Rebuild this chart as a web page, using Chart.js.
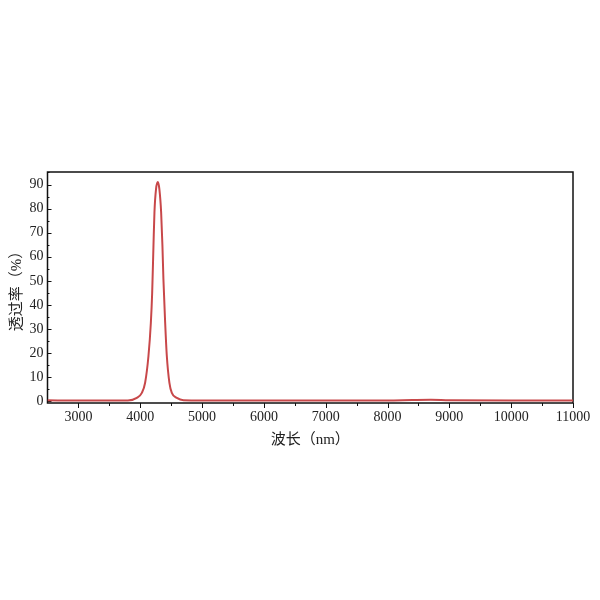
<!DOCTYPE html>
<html><head><meta charset="utf-8">
<script src="https://cdn.jsdelivr.net/npm/chart.js@4/dist/chart.umd.min.js"></script>
<style>html,body{margin:0;padding:0;background:#fff}#wrap{width:600px;height:600px}</style>
</head><body><div id="wrap"><canvas id="c" width="600" height="600"></canvas></div>
<script>
const wavelengths = [2500,3000,3500,3800,3945,4026,4079,4133,4172,4193,4214,4230,4255,4285,4310,4338,4359,4375,4403,4430,4472,4511,4592,4700,5000,6000,7000,8000,8400,8700,9000,10000,11000];
const transmittance = [0.4,0.3,0.3,0.3,1.4,3.5,7.7,18.8,32.7,45,64.6,78.5,88,91,88,78.5,64.6,50.7,32.7,18.8,7.7,3.5,1.4,0.4,0.3,0.3,0.3,0.3,0.5,0.6,0.4,0.3,0.3];
const xTicks = [3000,4000,5000,6000,7000,8000,9000,10000,11000];
const yTicks = [0,10,20,30,40,50,60,70,80,90];
const xTitle = '波长（nm）';
const yTitle = '透过率（%）';

const FONT = "'Liberation Serif', 'Noto Sans CJK SC', serif";

const frame = {
  id:'frame',
  beforeDatasetsDraw(chart){
    const {ctx, chartArea:a, scales:{x,y}} = chart;
    ctx.save();
    ctx.strokeStyle='#111'; ctx.lineWidth=1.5;
    ctx.strokeRect(a.left, a.top, a.right-a.left, a.bottom-a.top);
    ctx.lineWidth=1;
    ctx.beginPath();
    for(let v=0; v<=95; v+=5){
      const py = Math.round(y.getPixelForValue(v))+0.5;
      const len = (v%10===0)?4:2;
      ctx.moveTo(a.left, py); ctx.lineTo(a.left+len, py);
    }
    for(let v=3000; v<=11000; v+=500){
      const px = Math.round(x.getPixelForValue(v))+0.5;
      const len = (v%1000===0)?5:3;
      ctx.moveTo(px, a.bottom); ctx.lineTo(px, a.bottom+len);
    }
    ctx.stroke();
    ctx.restore();
  }
};

new Chart(document.getElementById('c'), {
  type:'line',
  data:{datasets:[{
    data: wavelengths.map((w,i)=>({x:w,y:transmittance[i]})),
    borderColor:'#c8484a', borderWidth:2, pointRadius:0,
    cubicInterpolationMode:'monotone', fill:false
  }]},
  options:{
    responsive:false, animation:false, devicePixelRatio:1,
    layout:{padding:{left:0,right:27,top:172,bottom:147}},
    plugins:{legend:{display:false},tooltip:{enabled:false}},
    scales:{
      x:{type:'linear', min:2500, max:11000,
        afterBuildTicks(s){ s.ticks = xTicks.map(v=>({value:v})); },
        afterFit(s){ s.height = 50; },
        grid:{display:false, drawTicks:false}, border:{display:false},
        ticks:{padding:6, color:'#222', font:{family:FONT, size:14}, maxRotation:0, autoSkip:false,
          callback:v=>String(v)},
        title:{display:true, text:xTitle, color:'#222', font:{family:FONT, size:15}, padding:{top:2}}
      },
      y:{type:'linear', min:-0.7, max:95.2,
        afterBuildTicks(s){ s.ticks = yTicks.map(v=>({value:v})); },
        afterFit(s){ s.width = 47.5; },
        grid:{display:false, drawTicks:false}, border:{display:false},
        ticks:{padding:4, color:'#222', font:{family:FONT, size:14}, autoSkip:false,
          callback:v=>String(v)},
        title:{display:true, text:yTitle, color:'#222', font:{family:FONT, size:15}, padding:{bottom:2, top:8}}
      }
    }
  },
  plugins:[frame]
});
</script></body></html>
